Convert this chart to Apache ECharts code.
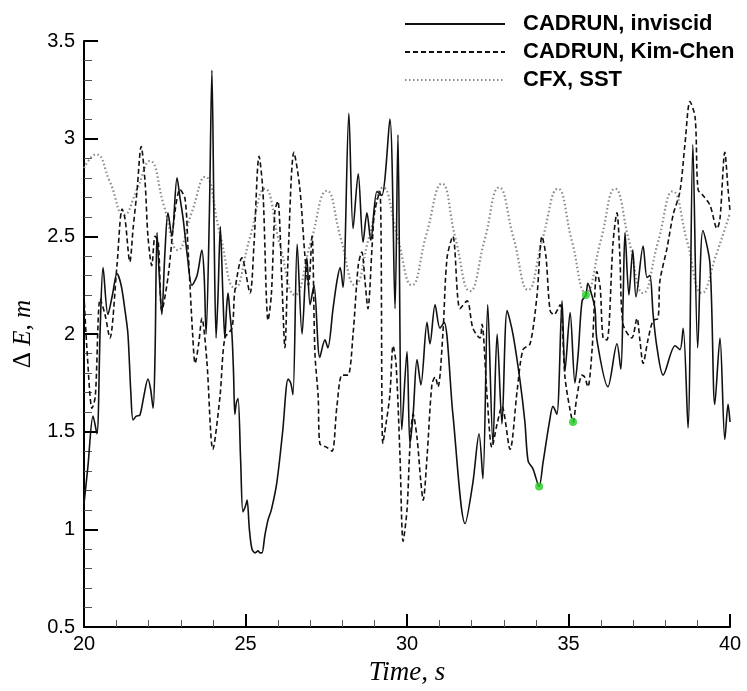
<!DOCTYPE html>
<html lang="en">
<head>
    <meta charset="UTF-8">
    <title>Delta E vs time</title>
    <script src="https://cdn.jsdelivr.net/npm/echarts@6.0.0/dist/echarts.min.js"></script>
    <style>
        html, body { margin: 0; padding: 0; background: #fff; }
        #chart-container { width: 747px; height: 691px; }
    </style>
</head>
<body>
<div id="chart-container"></div>
<script>
    // CADRUN, inviscid (solid)
    var inviscidT = [20.0,20.12,20.28,20.4,20.5,20.59,20.74,20.88,21.02,21.15,21.27,21.36,21.45,21.52,21.62,21.73,21.85,21.98,22.06,22.14,22.2,22.26,22.33,22.41,22.5,22.6,22.72,22.88,22.97,23.07,23.2,23.34,23.5,23.65,23.72,23.78,23.88,23.96,24.03,24.09,24.15,24.22,24.3,24.36,24.42,24.46,24.52,24.58,24.63,24.67,24.72,24.77,24.85,24.92,25.0,25.05,25.12,25.2,25.3,25.39,25.45,25.51,25.6,25.7,25.8,25.97,26.15,26.32,26.4,26.47,26.6,26.75,26.9,27.0,27.12,27.3,27.46,27.55,27.71,27.83,27.93,28.02,28.2,28.33,28.49,28.64,28.76,28.88,29.07,29.22,29.47,29.63,29.72,29.84,30.0,30.09,30.19,30.31,30.43,30.62,30.71,30.87,31.02,31.15,31.42,31.8,32.04,32.23,32.35,32.5,32.66,32.79,32.94,33.1,33.28,33.5,33.65,33.75,33.9,34.09,34.21,34.4,34.52,34.64,34.8,34.89,35.05,35.2,35.3,35.42,35.54,35.6,35.72,35.82,35.88,36.22,36.5,36.62,36.69,36.75,36.87,36.99,37.09,37.31,37.43,37.52,37.62,37.74,37.93,38.3,38.45,38.55,38.7,38.85,39.0,39.16,39.38,39.53,39.69,39.84,39.94,40.0];
    var inviscidE = [1.13,1.32,1.58,1.49,2.02,2.34,2.10,2.2,2.31,2.25,2.12,2.0,1.7,1.56,1.58,1.585,1.68,1.77,1.72,1.62,1.9,2.52,2.3,2.1,2.4,2.62,2.5,2.8,2.7,2.59,2.4,2.25,2.3,2.43,2.3,2.0,2.6,3.35,2.5,1.98,2.2,2.55,2.2,1.98,2.15,2.21,2.1,2.0,1.8,1.59,1.65,1.67,1.35,1.09,1.12,1.15,1.0,0.9,0.88,0.89,0.88,0.88,0.97,1.05,1.1,1.24,1.5,1.77,1.75,1.69,2.46,2.0,2.39,2.15,2.25,1.88,1.97,1.93,2.13,2.27,2.34,2.24,3.13,2.54,2.82,2.47,2.62,2.48,2.73,2.71,3.1,2.13,3.02,1.51,1.91,1.44,1.59,1.87,1.74,2.06,1.95,2.15,2.03,2.06,1.59,1.03,1.24,1.49,1.26,2.15,1.44,2.0,1.54,2.12,2.0,1.76,1.55,1.35,1.31,1.22,1.34,1.54,1.63,1.59,2.17,1.81,2.11,1.75,1.9,2.17,2.2,2.26,2.2,2.13,1.97,1.73,1.95,1.82,2.17,2.52,2.2,2.43,2.19,2.45,2.29,2.3,2.1,1.93,1.79,1.94,1.92,2.03,1.52,2.97,1.93,2.53,2.36,1.64,1.98,1.46,1.64,1.55];

    // CADRUN, Kim-Chen (dashed)
    var kimChenT = [20.0,20.1,20.25,20.35,20.5,20.65,20.8,21.02,21.18,21.27,21.42,21.52,21.64,21.77,21.89,21.98,22.1,22.2,22.3,22.41,22.6,22.82,22.97,23.13,23.22,23.37,23.44,23.55,23.65,23.8,23.99,24.21,24.36,24.58,24.67,24.89,25.14,25.26,25.42,25.54,25.7,25.8,25.91,26.0,26.13,26.22,26.32,26.5,26.68,26.84,26.95,27.06,27.15,27.25,27.3,27.52,27.68,27.83,27.99,28.17,28.33,28.49,28.6,28.7,28.79,28.92,29.0,29.16,29.25,29.35,29.47,29.57,29.66,29.78,29.88,30.0,30.09,30.19,30.31,30.43,30.5,30.62,30.77,30.87,30.96,31.11,31.24,31.42,31.64,31.86,32.04,32.26,32.32,32.48,32.63,32.79,32.94,33.19,33.41,33.59,33.81,34.02,34.18,34.3,34.43,34.55,34.74,34.89,35.05,35.14,35.26,35.42,35.5,35.6,35.73,35.88,35.98,36.07,36.19,36.38,36.5,36.59,36.69,36.96,37.12,37.21,37.31,37.46,37.62,37.77,37.83,38.05,38.24,38.45,38.61,38.76,38.92,39.01,39.16,39.38,39.6,39.69,39.84,39.94,40.0];
    var kimChenE = [2.2,1.9,1.62,1.68,2.18,2.1,1.98,2.35,2.64,2.59,2.37,2.54,2.73,2.96,2.78,2.5,2.35,2.5,2.47,2.12,2.29,2.63,2.74,2.69,2.44,1.98,1.85,1.95,2.08,1.87,1.41,1.68,1.98,2.03,2.22,2.39,2.21,2.45,2.91,2.73,2.07,2.2,2.63,2.68,2.25,1.93,2.4,2.93,2.75,2.4,2.25,2.5,1.9,1.68,1.44,1.42,1.4,1.63,1.79,1.79,2.0,2.35,2.42,2.27,2.13,2.45,2.63,2.73,1.44,1.54,1.69,1.94,1.85,1.39,0.94,1.1,1.42,1.59,1.47,1.24,1.15,1.37,1.74,1.78,1.73,2.0,2.39,2.5,2.13,2.17,2.03,1.98,2.05,1.68,1.42,1.54,1.63,1.41,1.71,1.92,1.95,2.19,2.5,2.4,2.12,2.1,2.15,1.78,1.61,1.55,1.68,1.79,1.78,1.73,1.92,2.32,2.24,1.98,1.97,2.47,2.62,2.4,2.05,1.98,2.08,1.97,1.85,1.97,2.07,2.08,2.27,2.44,2.61,2.73,2.98,3.19,3.11,2.74,2.71,2.66,2.54,2.59,2.93,2.74,2.63];

    // CFX, SST (dotted)
    var sstT = [20.0,20.37,20.8,21.24,21.64,22.04,22.47,22.91,23.33,23.75,24.2,24.67,25.13,25.6,26.06,26.53,27.02,27.52,27.95,28.39,28.83,29.26,29.7,30.15,30.6,31.08,31.5,31.95,32.4,32.85,33.3,33.75,34.2,34.67,35.1,35.54,36.0,36.44,36.87,37.31,37.77,38.23,38.68,39.13,39.56,40.0];
    var sstE = [2.85,2.92,2.78,2.61,2.74,2.886,2.66,2.43,2.62,2.805,2.52,2.236,2.49,2.744,2.46,2.2,2.47,2.733,2.49,2.25,2.5,2.75,2.5,2.25,2.51,2.77,2.49,2.22,2.48,2.75,2.49,2.226,2.49,2.744,2.48,2.21,2.48,2.744,2.48,2.21,2.47,2.73,2.47,2.21,2.4,2.62];

    // green marked points
    var markT = [34.09, 35.14, 35.54];
    var markE = [1.22, 1.55, 2.2];

    function pairs(t, e) {
        return t.map(function (x, i) { return [x, e[i]]; });
    }

    var axisFont = { fontFamily: 'Liberation Sans, Arial, sans-serif', fontSize: 20, color: '#000' };
    var serif = 'Liberation Serif, Times New Roman, serif';

    var option = {
        animation: false,
        backgroundColor: '#fff',
        grid: { left: 84, right: 17, top: 41, bottom: 59 },
        legend: {
            data: ['CADRUN, inviscid', 'CADRUN, Kim-Chen', 'CFX, SST'],
            orient: 'vertical',
            left: 399,
            top: 8,
            itemWidth: 100,
            itemHeight: 14,
            itemGap: 6,
            itemStyle: { opacity: 0 },
            textStyle: {
                fontFamily: 'Liberation Sans, Arial, sans-serif',
                fontWeight: 'bold',
                fontSize: 22,
                lineHeight: 22,
                color: '#000',
                padding: [0, 0, 0, 13]
            }
        },
        xAxis: {
            type: 'value',
            min: 20,
            max: 40,
            interval: 5,
            name: 'Time, s',
            nameLocation: 'middle',
            nameGap: 28,
            nameTextStyle: {
                fontFamily: serif,
                fontStyle: 'italic',
                fontSize: 27,
                color: '#000',
                verticalAlign: 'top'
            },
            axisLine: { lineStyle: { color: '#000', width: 2 } },
            axisTick: { inside: true, length: 13, lineStyle: { color: '#000', width: 2 } },
            minorTick: { show: true, splitNumber: 5, length: 7, lineStyle: { color: '#555', width: 1 } },
            axisLabel: Object.assign({ margin: 7 }, axisFont),
            splitLine: { show: false }
        },
        yAxis: {
            type: 'value',
            min: 0.5,
            max: 3.5,
            interval: 0.5,
            name: '{n|Δ }{i|E}{n|, }{i|m}',
            nameLocation: 'middle',
            nameGap: 48,
            nameRotate: 90,
            nameTextStyle: {
                color: '#000',
                rich: {
                    n: { fontFamily: serif, fontSize: 25, color: '#000' },
                    i: { fontFamily: serif, fontSize: 25, fontStyle: 'italic', color: '#000' }
                }
            },
            axisLine: { show: true, lineStyle: { color: '#000', width: 2 } },
            axisTick: { show: true, inside: true, length: 14, lineStyle: { color: '#000', width: 2 } },
            minorTick: { show: true, splitNumber: 5, length: 8, lineStyle: { color: '#555', width: 1 } },
            axisLabel: Object.assign({ margin: 9 }, axisFont),
            splitLine: { show: false }
        },
        series: [
            {
                name: 'CFX, SST',
                type: 'line',
                data: pairs(sstT, sstE),
                showSymbol: false,
                symbol: 'none',
                smooth: 0.5,
                lineStyle: { color: '#8a8a8a', width: 2.2, type: [1.5, 2.5] },
                itemStyle: { color: '#8a8a8a' },
                z: 2
            },
            {
                name: 'CADRUN, Kim-Chen',
                type: 'line',
                data: pairs(kimChenT, kimChenE),
                showSymbol: false,
                symbol: 'none',
                smooth: 0.3,
                lineStyle: { color: '#111', width: 1.6, type: [5, 3] },
                itemStyle: { color: '#111' },
                z: 3
            },
            {
                name: 'CADRUN, inviscid',
                type: 'line',
                data: pairs(inviscidT, inviscidE),
                showSymbol: false,
                symbol: 'none',
                smooth: 0.3,
                lineStyle: { color: '#111', width: 1.6 },
                itemStyle: { color: '#111' },
                z: 4
            },
            {
                name: 'marks',
                type: 'scatter',
                data: pairs(markT, markE),
                symbolSize: 8,
                itemStyle: { color: '#22cc22' },
                z: 5
            }
        ]
    };

    var chart = echarts.init(document.getElementById('chart-container'));
    chart.setOption(option);
</script>
</body>
</html>
